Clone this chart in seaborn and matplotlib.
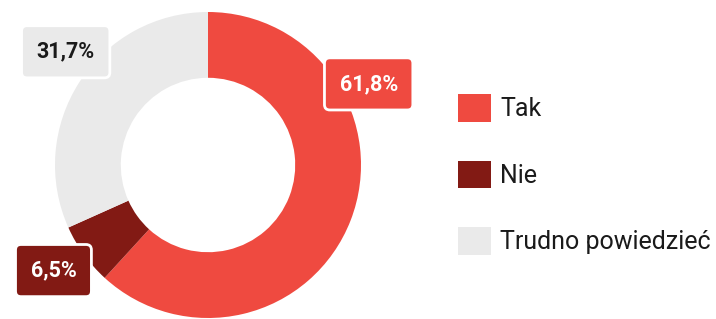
import matplotlib
matplotlib.use("Agg")
import matplotlib.pyplot as plt
from matplotlib.patches import Patch
import seaborn as sns

categories = ["Tak", "Nie", "Trudno powiedzieć"]
values = [61.8, 6.5, 31.7]
value_labels = ["61,8%", "6,5%", "31,7%"]

colors = ["#EF4A40", "#821A14", "#EAEAEA"]
text_colors = ["white", "white", "#1a1a1a"]
# label box centres, in pie coordinates (radius 1)
label_pos = [(1.05, 0.53), (-1.01, -0.69), (-0.93, 0.74)]

sns.set_theme(style="white")
plt.rcParams["font.family"] = ["Roboto", "DejaVu Sans"]

fig = plt.figure(figsize=(7.16, 3.19), dpi=100)
W, H = 716, 319
cx, cy, r = 208, 165, 153
ax = fig.add_axes([(cx - r) / W, (H - cy - r) / H, 2 * r / W, 2 * r / H])

ax.pie(values, colors=colors, startangle=90, counterclock=False,
       radius=1, wedgeprops=dict(width=0.43, linewidth=0), frame=True)
ax.set_xlim(-1, 1)
ax.set_ylim(-1, 1)
ax.set_aspect("equal")
ax.axis("off")

for lab, pos, fc, tc in zip(value_labels, label_pos, colors, text_colors):
    ax.text(pos[0], pos[1], lab, ha="center", va="center", fontsize=15.5,
            fontweight="bold", color=tc, clip_on=False,
            bbox=dict(boxstyle="round,pad=0.7,rounding_size=0.25", fc=fc,
                      ec="white", lw=2))

handles = [Patch(facecolor=c, edgecolor="none") for c in colors]
fig.legend(handles, categories, loc="upper left", bbox_to_anchor=(458 / W, 1 - 94 / H),
           frameon=False, fontsize=18, handlelength=1.32, handleheight=1.32,
           handletextpad=0.36, labelspacing=1.56, borderpad=0, borderaxespad=0,
           labelcolor="#1a1a1a")

plt.savefig("out.png", dpi=100)
